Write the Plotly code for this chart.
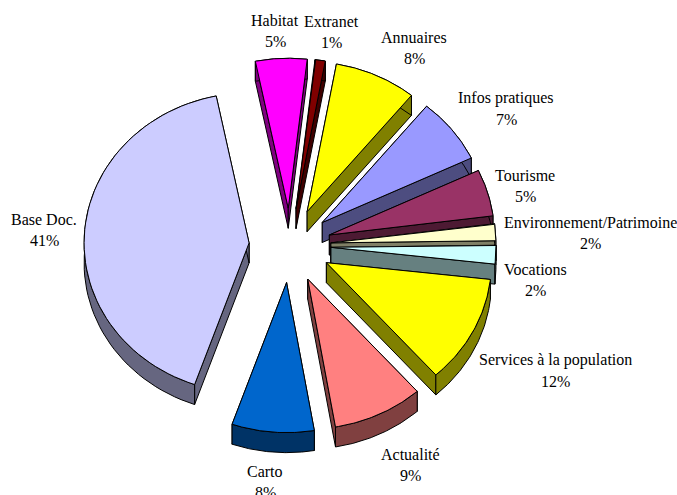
import numpy as np
import plotly.graph_objects as go

names = ["Habitat", "Extranet", "Annuaires", "Infos pratiques", "Tourisme",
         "Environnement/Patrimoine", "Vocations", "Services à la population",
         "Actualité", "Carto", "Base Doc."]
values = [5, 1, 8, 7, 5, 1.8, 2, 11.6, 8.8, 8, 41.2]
top_colors = ["#FF00FF", "#800000", "#FFFF00", "#9999FF", "#993366", "#FFFFCC",
              "#CCFFFF", "#FFFF00", "#FF8080", "#0066CC", "#CCCCFF"]
side_colors = ["#800080", "#400000", "#808000", "#4D4D80", "#4D1A33", "#808066",
               "#668080", "#808000", "#804040", "#003366", "#666680"]
label_x = [275, 331, 414, 506, 525, 590, 535, 555, 410, 265, 44]
label_y = [20, 21, 37, 98, 175, 222, 269, 360, 454, 471, 219]

CX, CY, RX, RY, DEPTH, PULL, START = 290, 245.5, 165, 150, 20, 41, -11.5
LINE_GAP = 21


def pt(angle, r=1.0):
    a = np.radians(angle)
    return r * RX * np.sin(a), -r * RY * np.cos(a)


fig = go.Figure()


def poly(xs, ys, color):
    fig.add_trace(go.Scatter(
        x=list(xs) + [xs[0]], y=list(ys) + [ys[0]], mode="lines", fill="toself",
        fillcolor=color, line=dict(color="black", width=1),
        hoverinfo="skip", showlegend=False))


total = sum(values)
slices = []
angle = START
for v, top, side in zip(values, top_colors, side_colors):
    span = 360 * v / total
    slices.append((angle, angle + span, top, side))
    angle += span

for a0, a1, top, side in sorted(slices, key=lambda s: -np.cos(np.radians((s[0] + s[1]) / 2))):
    mid = (a0 + a1) / 2
    ox, oy = pt(mid, PULL / RX)
    tx, ty = CX + ox, CY + oy
    ts = np.linspace(a0, a1, 60)
    rx, ry = pt(ts)
    rx, ry = tx + rx, ty + ry
    for i in (0, -1):
        poly([tx, rx[i], rx[i], tx], [ty, ry[i], ry[i] + DEPTH, ty + DEPTH], side)
    poly(np.r_[rx, rx[::-1]], np.r_[ry, ry[::-1] + DEPTH], side)
    poly(np.r_[tx, rx], np.r_[ty, ry], top)

font = dict(family="Liberation Serif", size=16, color="black")
for n, v, x, y in zip(names, values, label_x, label_y):
    pct = f"{round(100 * v / total)}%"
    for text, yy in ((n, y), (pct, y + LINE_GAP)):
        fig.add_annotation(x=x, y=yy, text=text, showarrow=False, font=font,
                           xanchor="center", yanchor="middle")

fig.update_layout(
    width=677, height=495, margin=dict(l=0, r=0, t=0, b=0),
    paper_bgcolor="white", plot_bgcolor="white", showlegend=False,
    xaxis=dict(range=[0, 677], visible=False, fixedrange=True),
    yaxis=dict(range=[495, 0], visible=False, fixedrange=True),
)
fig.write_html("out.html", config={"displayModeBar": False},
               post_script="document.body.style.margin='0';document.body.style.overflow='hidden';")
